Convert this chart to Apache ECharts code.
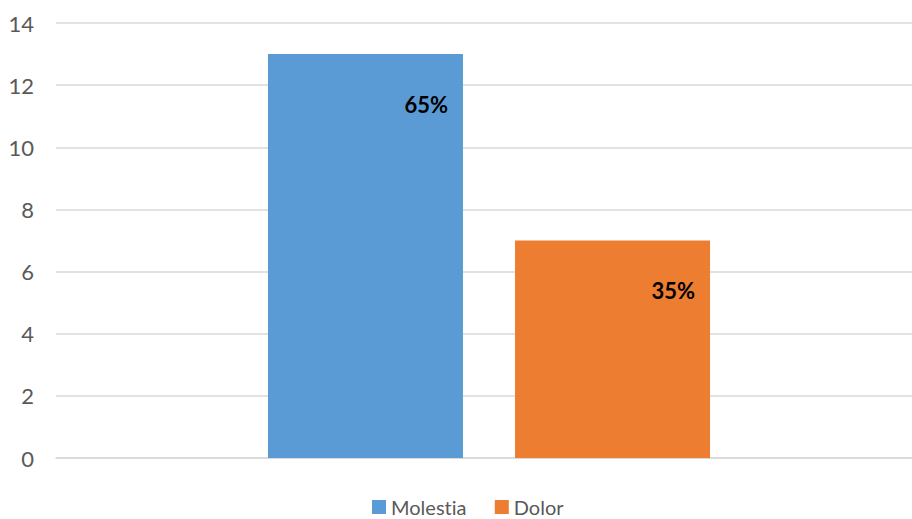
<!DOCTYPE html>
<html>
<head>
<meta charset="utf-8">
<script src="https://cdn.jsdelivr.net/npm/echarts@6/dist/echarts.min.js"></script>
<style>
  html, body { margin: 0; padding: 0; background: #fff; }
  #chart { width: 912px; height: 519px; }
  #chart text { font-variant-ligatures: none; }
</style>
</head>
<body>
<div id="chart"></div>
<script>
// Single category, two series
const categories = [''];
const seriesNames = ['Molestia', 'Dolor'];
const molestiaValues = [13];
const dolorValues = [7];
const pctLabels = ['65%', '35%'];
const seriesColors = ['#5B9BD5', '#ED7D31'];
const yMin = 0, yMax = 14, yStep = 2;

const FONT = 'Lato, "Open Sans", sans-serif';

const chart = echarts.init(document.getElementById('chart'), null, { renderer: 'svg' });

function barSeries(name, values, color, label) {
  return {
    name: name,
    type: 'bar',
    xAxisIndex: 1,
    yAxisIndex: 1,
    data: values,
    barWidth: 195,
    barGap: '26.7%',
    itemStyle: { color: color },
    label: {
      show: true,
      position: 'insideTopRight',
      distance: 0,
      offset: [-15, 39],
      formatter: () => label,
      color: '#000',
      fontWeight: 'bold',
      fontSize: 22,
      fontFamily: FONT
    }
  };
}

chart.setOption({
  animation: false,
  backgroundColor: '#fff',
  grid: [
    // axis frame: value labels and gridlines
    { left: 56, right: 0, top: 23, bottom: 61 },
    // plotting band for the bars
    { left: 66, right: 0, top: 23, bottom: 61 }
  ],
  legend: {
    data: seriesNames,
    left: 372,
    top: 497,
    padding: 0,
    icon: 'rect',
    itemWidth: 14,
    itemHeight: 14,
    itemGap: 28,
    textStyle: { color: '#595959', fontSize: 20, lineHeight: 18, fontFamily: FONT }
  },
  xAxis: [
    {
      gridIndex: 0,
      type: 'category',
      data: categories,
      axisLine: { show: true, lineStyle: { color: '#D9D9D9', width: 1.5 } },
      axisTick: { show: false },
      axisLabel: { show: false }
    },
    {
      gridIndex: 1,
      type: 'category',
      data: categories,
      show: false
    }
  ],
  yAxis: [
    {
      gridIndex: 0,
      type: 'value',
      min: yMin,
      max: yMax,
      interval: yStep,
      axisLine: { show: false },
      axisTick: { show: false },
      axisLabel: { color: '#595959', fontSize: 22, fontFamily: FONT, margin: 22 },
      splitLine: { lineStyle: { color: '#D9D9D9', width: 1.5 } }
    },
    {
      gridIndex: 1,
      type: 'value',
      min: yMin,
      max: yMax,
      interval: yStep,
      show: false
    }
  ],
  series: [
    barSeries(seriesNames[0], molestiaValues, seriesColors[0], pctLabels[0]),
    barSeries(seriesNames[1], dolorValues, seriesColors[1], pctLabels[1])
  ]
});
</script>
</body>
</html>
